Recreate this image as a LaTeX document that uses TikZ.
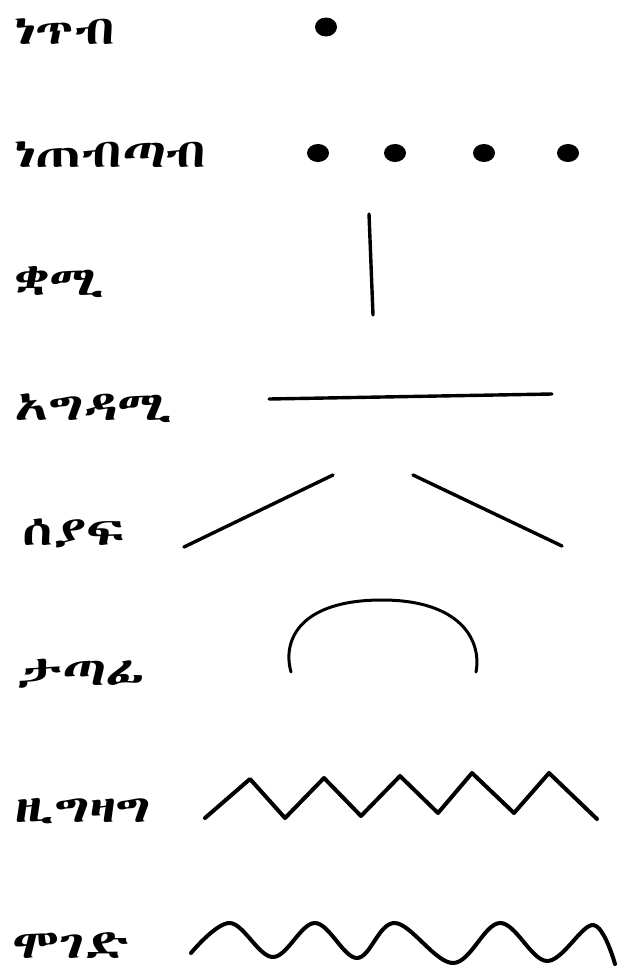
\documentclass[tikz,border=0pt]{standalone}
\usepackage{fontspec}
\IfFontExistsTF{Abyssinica SIL}{\newfontfamily\ethfont[FakeStretch=1.4]{Abyssinica SIL}}{%
  \IfFontExistsTF{FreeSerif}{\newfontfamily\ethfont[FakeStretch=1.4]{FreeSerif}}{\newfontfamily\ethfont{DejaVu Sans}}}
\tikzset{
  lbl/.style={anchor=base west, inner sep=0pt, font=\ethfont\fontsize{40}{46}\selectfont},
  stroke/.style={line width=3.4pt, line cap=round, line join=round},
  dotmark/.style={fill=black}
}
\begin{document}
\begin{tikzpicture}[x=1pt,y=-1pt]
\useasboundingbox (0,0) rectangle (628,977);
% labels
\node[lbl] (l1) at (14,44) {ነጥብ};
\node[lbl] (l2) at (14,167) {ነጠብጣብ};
\node[lbl] (l3) at (14,295) {ቋሚ};
\node[lbl] (l4) at (14,420) {አግዳሚ};
\node[lbl] (l5) at (22,545) {ሰያፍ};
\node[lbl] (l6) at (16,685) {ታጣፊ};
\node[lbl] (l7) at (14,822) {ዚግዛግ};
\node[lbl] (l8) at (12,958) {ሞገድ};
% point
\fill[dotmark] (326,27) ellipse [x radius=11, y radius=9.5];
% dotted
\foreach \x in {318,395,484,568} \fill[dotmark] (\x,153) ellipse [x radius=11, y radius=9];
% vertical
\draw[stroke] (369,214) -- (373,315);
% horizontal
\draw[stroke] (269,399) -- (552,394);
% oblique
\draw[stroke] (184,547) -- (333,475);
\draw[stroke] (413,475) -- (562,546);
% arc
\draw[stroke, line width=3pt] (291,672) .. controls (282,640) and (300,600) .. (382,600)
  .. controls (460,600) and (482,640) .. (476,672);
% zigzag
\draw[stroke, line width=4pt] (205,818) -- (250,779) -- (285,818) -- (324,778) -- (361,816)
  -- (400,776) -- (438,813) -- (472,773) -- (514,813) -- (549,773) -- (597,819);
% wave
\draw[stroke, line width=4pt] plot[smooth, tension=0.6] coordinates {(191,953) (230,923) (273,957) (315,923) (357,958) (395,923) (453,963) (500,923) (547,961) (593,925) (615,964)};
\end{tikzpicture}
\end{document}
